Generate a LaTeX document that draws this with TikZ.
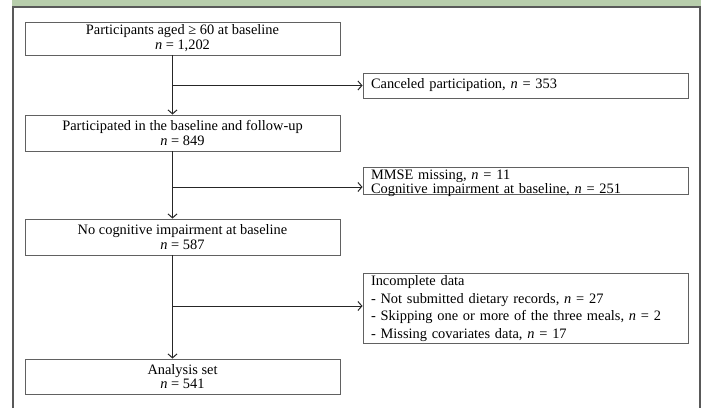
\documentclass[tikz,border=0pt]{standalone}
\usepackage{fontspec}
\setmainfont{Liberation Serif}
\usetikzlibrary{arrows.meta}
\begin{document}
\begin{tikzpicture}[x=1bp,y=-1bp,
  box/.style={draw=black!62,line width=0.9bp,minimum width=315bp,inner sep=0pt,align=center,font=\fontsize{14.4bp}{14.8bp}\selectfont},
  side/.style={draw=black!62,line width=0.9bp,text width=309bp,inner xsep=8bp,inner ysep=0pt,align=left,font=\fontsize{14.4bp}{14bp}\selectfont},
  arr/.style={draw=black!85,line width=1bp,-{Straight Barb[length=4bp,width=9bp]}},
  ln/.style={draw=black!85,line width=1bp}]
\useasboundingbox (0,0) rectangle (702,408);
\fill[fill={rgb,255:red,184;green,206;blue,172}] (12,0) rectangle (701,6);
\draw[black!65,line width=2bp] (13,408) -- (13,7) -- (700,7) -- (700,408);

\node[box,minimum height=33bp] (b1) at (182.5,38.5) {Participants aged ≥ 60 at baseline\\\textit{n} = 1,202};
\node[box,minimum height=36bp] (b2) at (182.5,133) {Participated in the baseline and follow-up\\\textit{n} = 849};
\node[box,minimum height=36bp] (b3) at (182.5,237) {No cognitive impairment at baseline\\\textit{n} = 587};
\node[box,minimum height=35bp] (b4) at (182.5,376.5) {Analysis set\\\textit{n} = 541};

\node[side,minimum height=25bp] (r1) at (525.5,85.5) {Canceled participation, \textit{n} = 353};
\node[side,text height=12.5bp,text depth=14.5bp,font=\fontsize{14.4bp}{12.5bp}\selectfont] (r2) at (525.5,180.5) {MMSE missing, \textit{n} = 11\\Cognitive impairment at baseline, \textit{n} = 251};
\node[side,minimum height=70bp,font=\fontsize{14.4bp}{17.4bp}\selectfont] (r3) at (525.5,308.5) {Incomplete data\\- Not submitted dietary records, \textit{n} = 27\\- Skipping one or more of the three meals, \textit{n} = 2\\- Missing covariates data, \textit{n} = 17};

\coordinate (j1) at (172.5,85.5);
\coordinate (j2) at (172.5,187);
\coordinate (j3) at (172.5,306);

\draw[arr] (b1.south -| j1) -- (b2.north -| j1);
\draw[arr] (b2.south -| j2) -- (b3.north -| j2);
\draw[arr] (b3.south -| j3) -- (b4.north -| j3);
\draw[arr] (j1) -- (r1.west);
\draw[arr] (j2) -- (r2.west |- j2);
\draw[arr] (j3) -- (r3.west |- j3);
\end{tikzpicture}
\end{document}
